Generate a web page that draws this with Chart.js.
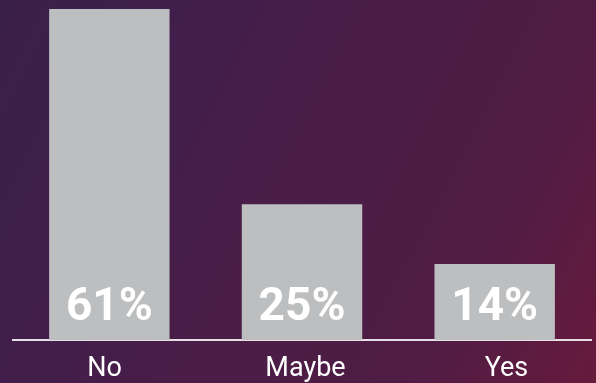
<!DOCTYPE html>
<html>
<head>
<meta charset="utf-8">
<script src="https://cdn.jsdelivr.net/npm/chart.js@4"></script>
<style>
  html, body { margin: 0; padding: 0; }
  body {
    width: 596px; height: 383px; overflow: hidden;
    background: linear-gradient(117deg, #3a1f4a 0%, #411e4b 25%, #4a1d46 50%, #4f1c45 75%, #661a3c 100%);
  }
  #wrap { width: 596px; height: 383px; }
</style>
</head>
<body>
<div id="wrap"><canvas id="chart"></canvas></div>
<script>
const labels = ["No", "Maybe", "Yes"];
const values = [61, 25, 14];

// draw the percentage inside each bar, near the bottom
const barLabels = {
  id: "barLabels",
  afterDatasetsDraw(chart) {
    const ctx = chart.ctx;
    const meta = chart.getDatasetMeta(0);
    ctx.save();
    ctx.fillStyle = "#ffffff";
    ctx.font = "bold 46px Roboto";
    ctx.textAlign = "center";
    ctx.textBaseline = "alphabetic";
    meta.data.forEach((bar, i) => {
      ctx.fillText(values[i] + "%", bar.x, bar.base - 20);
    });
    ctx.restore();
  }
};

// the category names sit a bit wider apart than the bars
const spreadLabels = {
  id: "spreadLabels",
  afterLayout(chart) {
    const s = chart.scales.xl;
    s.left = 4;
    s.right = 607;
    s.width = 603;
    s.configure();
  }
};

const ctx = document.getElementById("chart").getContext("2d");

new Chart(ctx, {
  type: "bar",
  data: {
    labels: labels,
    datasets: [
      {
        data: values,
        backgroundColor: "#bdbebf",
        categoryPercentage: 0.625,
        barPercentage: 1,
      },
    ],
  },
  options: {
    responsive: true,
    maintainAspectRatio: false,
    animation: false,
    layout: { padding: { left: 13, right: 5, top: 9, bottom: 0 } },
    plugins: {
      legend: { display: false },
      tooltip: { enabled: false },
    },
    scales: {
      x: {
        grid: { display: false, drawTicks: false },
        border: { display: true, color: "#e6e0e6", width: 2 },
        ticks: { display: false },
        afterFit(scale) { scale.height = 0; },
      },
      xl: {
        type: "category",
        position: "bottom",
        labels: labels,
        grid: { display: false, drawTicks: false },
        border: { display: false },
        ticks: {
          color: "#ffffff",
          font: { family: "Roboto", size: 27 },
          padding: 13,
        },
        afterFit(scale) { scale.height = 43; },
      },
      y: {
        display: false,
        min: 0,
        max: 61,
      },
    },
  },
  plugins: [barLabels, spreadLabels],
});
</script>
</body>
</html>
